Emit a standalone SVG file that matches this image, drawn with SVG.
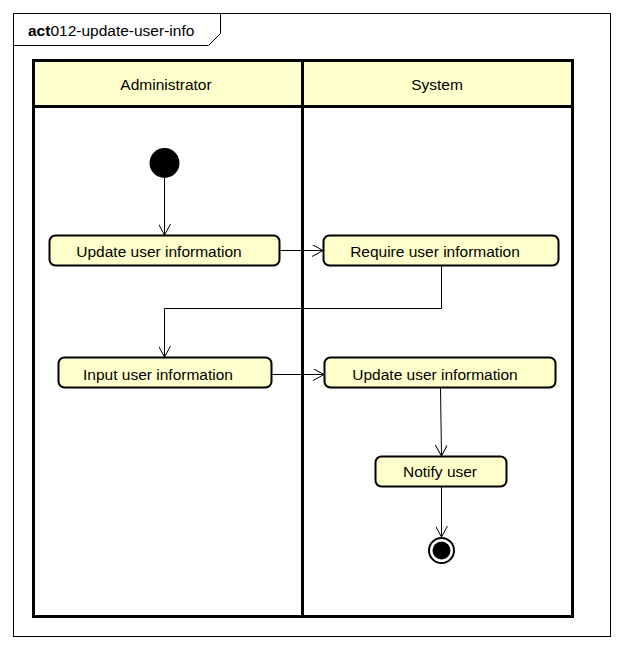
<svg xmlns="http://www.w3.org/2000/svg" width="624" height="650" viewBox="0 0 624 650">
<style>
text{font-family:"Liberation Sans",Arial,sans-serif;font-size:15.5px;fill:#000}
.act rect{fill:#FFFFCC;stroke:#000;stroke-width:2}
.lane{fill:none;stroke:#000;stroke-width:3}
.hdr{fill:#FFFFCC;stroke:#000;stroke-width:3}
.edge{fill:none;stroke:#000;stroke-width:1}
</style>
<defs>
<marker id="arr" viewBox="0 0 12 12" refX="11" refY="6" markerWidth="12" markerHeight="12" markerUnits="userSpaceOnUse" orient="auto">
<path d="M0,0 L11,6 L0,12" fill="none" stroke="#000" stroke-width="1"/>
</marker>
</defs>
<rect width="624" height="650" fill="#fff"/>
<g id="frame">
<rect x="13.5" y="13.5" width="597" height="623" fill="none" stroke="#000" stroke-width="1"/>
<path d="M13.5,45.5 H208.5 L220.5,33.5 V13.5" fill="none" stroke="#000" stroke-width="1"/>
<text x="28" y="36"><tspan font-weight="bold">act</tspan><tspan>012-update-user-info</tspan></text>
</g>
<g id="lanes">
<rect class="hdr" x="33.5" y="60.5" width="539" height="46"/>
<rect class="lane" x="33.5" y="60.5" width="539" height="556"/>
<line x1="302.5" y1="60.5" x2="302.5" y2="616.5" stroke="#000" stroke-width="3"/>
<text x="166" y="90" text-anchor="middle">Administrator</text>
<text x="437" y="90" text-anchor="middle">System</text>
</g>
<g id="connectors">
<line class="edge" x1="164.5" y1="178" x2="164.5" y2="235" marker-end="url(#arr)"/>
<line class="edge" x1="280" y1="250.5" x2="323" y2="250.5" marker-end="url(#arr)"/>
<polyline class="edge" points="441.5,265 441.5,308.5 164.5,308.5 164.5,357" marker-end="url(#arr)"/>
<line class="edge" x1="272" y1="374.5" x2="324" y2="374.5" marker-end="url(#arr)"/>
<line class="edge" x1="440.5" y1="388" x2="441.5" y2="456" marker-end="url(#arr)"/>
<line class="edge" x1="441.5" y1="487" x2="441.5" y2="537" marker-end="url(#arr)"/>
</g>
<g id="start"><circle cx="164.5" cy="163" r="15" fill="#000"/></g>
<g id="a1" class="act"><rect x="49.5" y="235.5" width="230" height="30" rx="6"/><text x="159" y="257" text-anchor="middle">Update user information</text></g>
<g id="a2" class="act"><rect x="323.5" y="235.5" width="235" height="30" rx="6"/><text x="435" y="257" text-anchor="middle">Require user information</text></g>
<g id="a3" class="act"><rect x="58.5" y="357.5" width="213" height="30" rx="6"/><text x="158" y="380" text-anchor="middle">Input user information</text></g>
<g id="a4" class="act"><rect x="324.5" y="357.5" width="231" height="30" rx="6"/><text x="435" y="380" text-anchor="middle">Update user information</text></g>
<g id="a5" class="act"><rect x="375.5" y="456.5" width="131" height="30" rx="6"/><text x="440" y="477" text-anchor="middle">Notify user</text></g>
<g id="end">
<circle cx="441.5" cy="550.5" r="12.5" fill="#fff" stroke="#000" stroke-width="2"/>
<circle cx="441.5" cy="550.5" r="9" fill="#000"/>
</g>
</svg>
